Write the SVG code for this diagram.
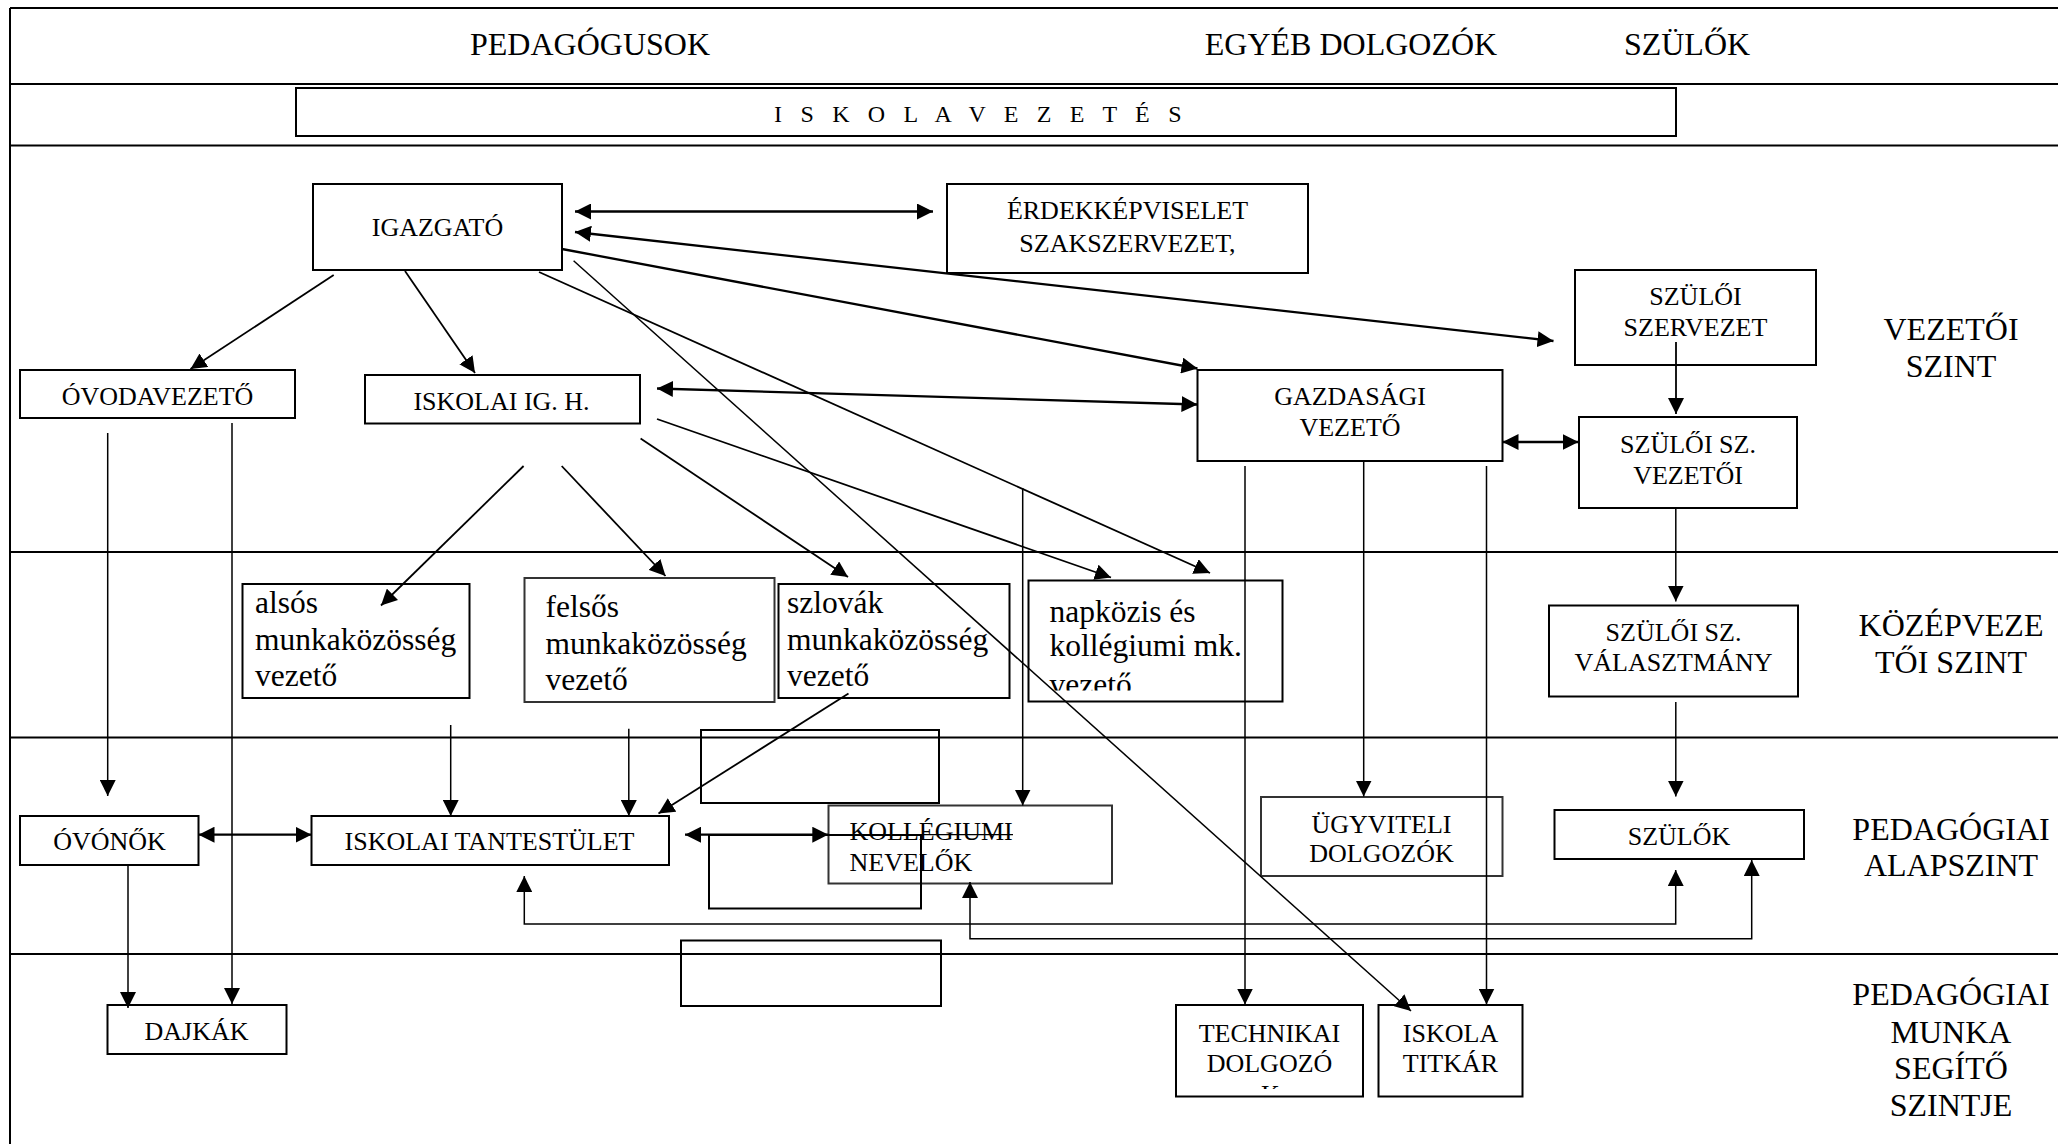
<svg xmlns="http://www.w3.org/2000/svg" width="2058" height="1144" viewBox="0 0 2058 1144">
<style>
text{font-family:"Liberation Serif","Times New Roman",serif;fill:#000}
.t{font-size:26px;text-anchor:middle}
.l{font-size:31.5px}
.h{font-size:32px;text-anchor:middle}
.b{fill:none;stroke:#000;stroke-width:2}
.g{fill:none;stroke:#333;stroke-width:2}
.f{fill:none;stroke:#000;stroke-width:2}
.c{fill:none;stroke:#000;stroke-width:1.8}
.w{stroke-width:2.3}
.n{stroke-width:1.5}
.a{marker-end:url(#ah)}
.d{marker-start:url(#ah);marker-end:url(#ah)}
</style>
<defs>
<marker id="ah" markerUnits="userSpaceOnUse" viewBox="0 0 16 16" refX="16" refY="8" markerWidth="16" markerHeight="16" orient="auto-start-reverse">
<path d="M0,0 L16,8 L0,16 z" fill="#000"/>
</marker>
<clipPath id="clipNap"><rect x="1030" y="582" width="250" height="108.5"/></clipPath>
<clipPath id="clipTech"><rect x="1177" y="1006" width="185" height="83"/></clipPath>
</defs>
<rect width="2058" height="1144" fill="#fff"/>
<g id="frame">
<path class="f" d="M10,8 H2058 M10,8 V1144 M10,84 H2058 M10,145.5 H2058 M10,552 H2058 M10,737.5 H2058 M10,954 H2058"/>
<text class="h" x="590" y="55">PEDAGÓGUSOK</text>
<text class="h" x="1351" y="55">EGYÉB DOLGOZÓK</text>
<text class="h" x="1687" y="55">SZÜLŐK</text>
</g>
<g id="levels">
<text class="h" x="1951" y="340">VEZETŐI</text>
<text class="h" x="1951" y="377">SZINT</text>
<text class="h" x="1951" y="636">KÖZÉPVEZE</text>
<text class="h" x="1951" y="673">TŐI SZINT</text>
<text class="h" x="1951" y="840">PEDAGÓGIAI</text>
<text class="h" x="1951" y="876">ALAPSZINT</text>
<text class="h" x="1951" y="1005">PEDAGÓGIAI</text>
<text class="h" x="1951" y="1043">MUNKA</text>
<text class="h" x="1951" y="1079">SEGÍTŐ</text>
<text class="h" x="1951" y="1116">SZINTJE</text>
</g>
<g id="iskolavezetes">
<rect class="b" x="296" y="88" width="1380" height="48"/>
<text x="774" y="122" style="font-size:24px;letter-spacing:6.2px">I S K O L A V E Z E T É S</text>
</g>
<g id="igazgato">
<rect class="b" x="313" y="184" width="249" height="86"/>
<text class="t" x="437.5" y="235.5">IGAZGATÓ</text>
</g>
<g id="erdekkepviselet">
<rect class="b" x="947" y="184" width="361" height="89"/>
<text class="t" x="1127.5" y="218.5">ÉRDEKKÉPVISELET</text>
<text class="t" x="1127.5" y="251.5">SZAKSZERVEZET,</text>
</g>
<g id="szuloi-szervezet">
<rect class="b" x="1575" y="270" width="241" height="95"/>
<text class="t" x="1695.5" y="304.5">SZÜLŐI</text>
<text class="t" x="1695.5" y="335.5">SZERVEZET</text>
</g>
<g id="ovodavezeto">
<rect class="b" x="20" y="370" width="275" height="48"/>
<text class="t" x="157.5" y="404.5">ÓVODAVEZETŐ</text>
</g>
<g id="iskolai-ig-h">
<rect class="b" x="365" y="375" width="275" height="48.5"/>
<text class="t" x="501.5" y="409.5">ISKOLAI IG. H.</text>
</g>
<g id="gazdasagi-vezeto">
<rect class="b" x="1197.5" y="370" width="305" height="91"/>
<text class="t" x="1350" y="404.5">GAZDASÁGI</text>
<text class="t" x="1350" y="435.5">VEZETŐ</text>
</g>
<g id="szuloi-sz-vezetoi">
<rect class="b" x="1579" y="417" width="218" height="91"/>
<text class="t" x="1688" y="453">SZÜLŐI SZ.</text>
<text class="t" x="1688" y="484">VEZETŐI</text>
</g>
<g id="alsos">
<rect class="b" x="242.5" y="584" width="227" height="114"/>
<text class="l" x="255" y="613">alsós</text>
<text class="l" x="255" y="649.5">munkaközösség</text>
<text class="l" x="255" y="686">vezető</text>
</g>
<g id="felsos">
<rect class="g" x="524.5" y="578" width="250" height="124"/>
<text class="l" x="545.5" y="617">felsős</text>
<text class="l" x="545.5" y="653.5">munkaközösség</text>
<text class="l" x="545.5" y="690">vezető</text>
</g>
<g id="szlovak">
<rect class="b" x="778.5" y="584" width="231" height="114"/>
<text class="l" x="787" y="613">szlovák</text>
<text class="l" x="787" y="649.5">munkaközösség</text>
<text class="l" x="787" y="686">vezető</text>
</g>
<g id="napkozis">
<rect class="b" x="1028.5" y="580.5" width="254" height="121"/>
<g clip-path="url(#clipNap)">
<text class="l" x="1049.5" y="621.5">napközis és</text>
<text class="l" x="1049.5" y="655.5">kollégiumi mk.</text>
<text class="l" x="1049.5" y="695">vezető</text>
</g>
</g>
<g id="szuloi-sz-valasztmany">
<rect class="b" x="1549" y="605.5" width="249" height="91"/>
<text class="t" x="1673.5" y="641">SZÜLŐI SZ.</text>
<text class="t" x="1673.5" y="671">VÁLASZTMÁNY</text>
</g>
<g id="ures-1">
<rect class="b" x="701" y="730" width="238" height="73"/>
</g>
<g id="ovonok">
<rect class="b" x="20" y="816" width="178.5" height="49"/>
<text class="t" x="109.5" y="850">ÓVÓNŐK</text>
</g>
<g id="iskolai-tantestulet">
<rect class="b" x="311.5" y="816" width="357.5" height="49"/>
<text class="t" x="489.5" y="850">ISKOLAI TANTESTÜLET</text>
</g>
<g id="kollegiumi-nevelok">
<rect class="g" x="828.5" y="805.5" width="283.5" height="78"/>
<text x="849.5" y="839.5" style="font-size:26px">KOLLÉGIUMI</text>
<text x="849.5" y="870.5" style="font-size:26px">NEVELŐK</text>
</g>
<g id="ures-2">
<rect class="b" x="709" y="835" width="212" height="73.5"/>
</g>
<g id="ugyviteli-dolgozok">
<rect class="g" x="1261" y="797" width="241.5" height="79"/>
<text class="t" x="1381.5" y="833">ÜGYVITELI</text>
<text class="t" x="1381.5" y="862">DOLGOZÓK</text>
</g>
<g id="szulok">
<rect class="b" x="1554.5" y="810" width="249.5" height="49"/>
<text class="t" x="1679" y="844.5">SZÜLŐK</text>
</g>
<g id="ures-3">
<rect class="b" x="681" y="940.5" width="260" height="65.5"/>
</g>
<g id="dajkak">
<rect class="b" x="107.5" y="1005" width="179" height="49"/>
<text class="t" x="196.5" y="1040">DAJKÁK</text>
</g>
<g id="technikai-dolgozok">
<rect class="b" x="1176" y="1005" width="187" height="91.5"/>
<g clip-path="url(#clipTech)">
<text class="t" x="1269.5" y="1041.5">TECHNIKAI</text>
<text class="t" x="1269.5" y="1071.5">DOLGOZÓ</text>
<text class="t" x="1270.5" y="1103">K</text>
</g>
</g>
<g id="iskola-titkar">
<rect class="b" x="1378.5" y="1005" width="144" height="91.5"/>
<text class="t" x="1450.5" y="1041.5">ISKOLA</text>
<text class="t" x="1450.5" y="1071.5">TITKÁR</text>
</g>
<g id="connectors">
<path class="c w d" d="M575,211.5 H933"/>
<path class="c w d" d="M575,232 L1553.5,341"/>
<path class="c w a" d="M562,249 L1197.5,368.5"/>
<path class="c w d" d="M657,388.5 L1197.5,404.5"/>
<path class="c w d" d="M1502.5,442 H1578.5"/>
<path class="c a" d="M1676,342 V414"/>
<path class="c a" d="M333.7,275 L190.5,369"/>
<path class="c a" d="M405,271 L475,373"/>
<path class="c a" d="M539,272 L1210,573"/>
<path class="c n a" d="M573.6,260.7 L1411,1011"/>
<path class="c a" d="M657,419 L1111,577.5"/>
<path class="c a" d="M523.6,466 L381,605.5"/>
<path class="c a" d="M561.7,466 L665.5,576"/>
<path class="c a" d="M640.6,438.6 L848,577"/>
<path class="c a" d="M848.5,693.5 L658.5,813.5"/>
<path class="c n a" d="M450.7,725 V816"/>
<path class="c n a" d="M628.8,728.7 V816"/>
<path class="c n a" d="M107.7,433 V796"/>
<path class="c n a" d="M232,423 V1004"/>
<path class="c n a" d="M128,865 V1008"/>
<path class="c w d" d="M198.5,834.7 H311.5"/>
<path class="c w d" d="M685,834.7 H828.3"/>
<path class="c" style="stroke-width:1.3" d="M828.3,834.7 H1013"/>
<path class="c n a" d="M1022.7,488 V805.5"/>
<path class="c n a" d="M1245,466 V1004.5"/>
<path class="c n a" d="M1363.7,461 V796.5"/>
<path class="c n a" d="M1486.5,466 V1004.5"/>
<path class="c n a" d="M1675.8,508 V601.5"/>
<path class="c n a" d="M1675.8,702 V796.5"/>
<path class="c n d" d="M524.3,876 V924 H1675.7 V870"/>
<path class="c n d" d="M970,882 V938.7 H1751.7 V860"/>
</g>
</svg>
